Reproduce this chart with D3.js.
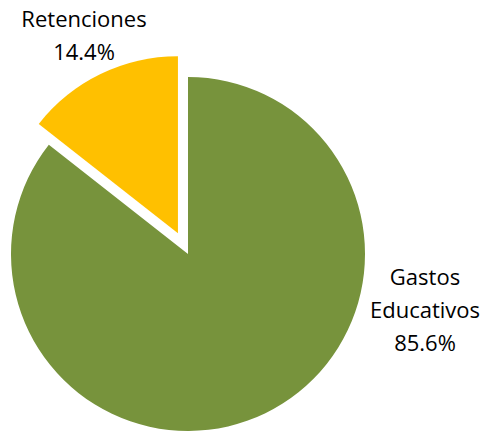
<!DOCTYPE html>
<html>
<head>
    <meta charset="utf-8">
    <style>
        body { margin: 0; background: #fff; }
        text { font-family: 'Open Sans', sans-serif; font-size: 22px; fill: #000; }
    </style>
</head>
<body>
<svg width="483" height="432"></svg>
<script src="https://d3js.org/d3.v7.min.js"></script>
<script>
    // chart data
    let categories = ["Gastos Educativos", "Retenciones"]
    let values = [85.6, 14.4]
    let colors = ["#77933C", "#FFC000"]
    let exploded = [false, true]

    let svg = d3.select("svg")
    let cx = 188, cy = 254, radius = 177, explode = 23

    let pie = d3.pie().sort(null).value(d => d)
    let arcs = pie(values)

    let arc = d3.arc().innerRadius(0).outerRadius(radius)

    svg.selectAll(".slice")
        .data(arcs)
        .join("path")
        .attr("class", "slice")
        .attr("d", arc)
        .attr("transform", (d, i) => {
            let dx = 0, dy = 0
            if (exploded[i]) {
                let mid = (d.startAngle + d.endAngle) / 2
                dx = Math.sin(mid) * explode
                dy = -Math.cos(mid) * explode
            }
            return "translate(" + (cx + dx) + "," + (cy + dy) + ")"
        })
        .style("fill", (d, i) => colors[i])

    // labels
    let labels = [
        { lines: ["Gastos", "Educativos", values[0].toFixed(1) + "%"], x: 425, y: 285 },
        { lines: ["Retenciones", values[1].toFixed(1) + "%"], x: 84, y: 27 }
    ]

    labels.forEach(l => {
        let t = svg.append("text")
            .attr("text-anchor", "middle")
        l.lines.forEach((s, j) => {
            t.append("tspan")
                .attr("x", l.x)
                .attr("y", l.y + j * 33)
                .text(s)
        })
    })
</script>
</body>
</html>
